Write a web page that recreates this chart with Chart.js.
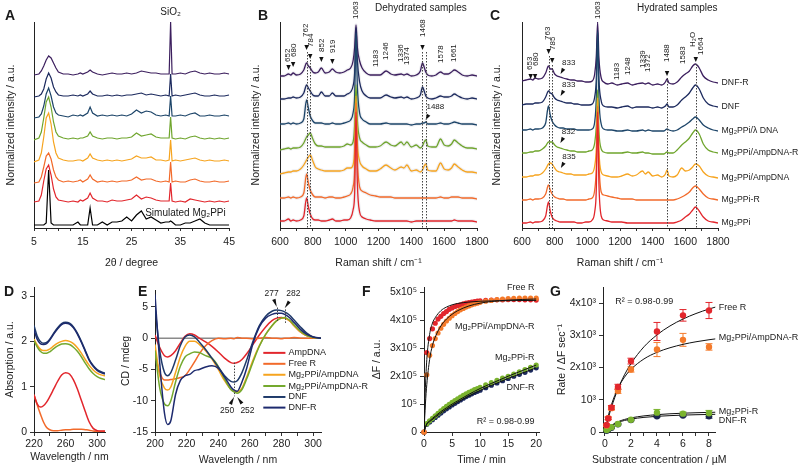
<!DOCTYPE html>
<html>
<head>
<meta charset="utf-8">
<script src="https://cdn.jsdelivr.net/npm/chart.js@4.4.1/dist/chart.umd.min.js"></script>
<style>
html,body{margin:0;padding:0;background:#fff;}
#wrap{position:relative;width:800px;height:468px;overflow:hidden;background:#fff;}
#wrap canvas{position:absolute;}
.lt{position:absolute;font:bold 14px "Liberation Sans",Arial,sans-serif;line-height:16px;color:#1a1a1a;}
.tt{position:absolute;font:10px "Liberation Sans",Arial,sans-serif;line-height:12px;color:#222;white-space:nowrap;}
</style>
</head>
<body>
<div id="wrap">
  <canvas id="cA" width="240" height="275" style="left:0px;top:0px"></canvas>
  <canvas id="cB" width="262" height="275" style="left:240px;top:0px"></canvas>
  <canvas id="cC" width="318" height="275" style="left:482px;top:0px"></canvas>
  <canvas id="cD" width="140" height="236" style="left:0px;top:232px"></canvas>
  <canvas id="cE" width="260" height="236" style="left:116px;top:232px"></canvas>
  <canvas id="cF" width="195" height="236" style="left:355px;top:232px"></canvas>
  <canvas id="cG" width="255" height="236" style="left:545px;top:232px"></canvas>
  <div class="lt" style="left:5px;top:7px">A</div>
  <div class="lt" style="left:258px;top:7px">B</div>
  <div class="lt" style="left:490px;top:7px">C</div>
  <div class="lt" style="left:4px;top:283px">D</div>
  <div class="lt" style="left:138px;top:283px">E</div>
  <div class="lt" style="left:362px;top:283px">F</div>
  <div class="lt" style="left:550px;top:283px">G</div>
  <div class="tt" style="left:375px;top:2px">Dehydrated samples</div>
  <div class="tt" style="left:637px;top:2px">Hydrated samples</div>
</div>
<script>
const FONT = '"Liberation Sans", Arial, Helvetica, sans-serif';

/* ===================== DATA ===================== */
const sampleNames = ['DNF-R','DNF','Mg₂PPi/λ DNA','Mg₂PPi/AmpDNA-R','Mg₂PPi/AmpDNA','Mg₂PPi-R','Mg₂PPi'];
const sampleColors = ['#3c1f5e','#1c2a5e','#1d4569','#6fa52d','#f6a41f','#f26a2a','#e2262c'];

/* A: XRD (2θ, intensity a.u.) */
const xrdAngle = [5,6,6.5,7,7.5,8,8.5,9,9.5,10,11,12,13,14,14.5,15,16,16.5,17,18,19,20,21,22,23,24,25,26,27,28,29,30,31,32,32.7,33,33.3,34,35,36,37,38,39,40,41,42,43,44,45];
const xrdDNFR   = [0,1,4,9,15,19,17,12,7,3,1,1,0,1,2,1,3,5,3,1,0,1,2,1,1,2,1,2,4,3,2,2,1,1,1,53,1,1,2,1,3,4,2,1,2,1,1,2,1];
const xrdDNF    = [0,1,3,8,18,24,19,10,5,2,1,1,2,1,2,1,3,6,3,1,1,2,1,2,1,2,2,3,4,2,3,2,1,2,1,23,1,2,1,2,3,4,2,1,1,2,1,1,2];
const xrdLambda = [0,1,4,12,24,30,22,11,5,3,2,1,3,2,3,2,5,11,5,2,3,2,3,2,3,2,4,8,5,7,6,3,2,3,2,22,2,2,3,2,4,5,2,2,3,2,2,3,2];
const xrdAmpR   = [0,2,8,22,38,43,33,18,8,4,2,1,2,1,2,2,4,8,4,2,1,2,2,1,2,2,3,7,4,5,6,3,2,2,2,23,2,1,2,1,3,4,2,1,2,1,2,1,2];
const xrdAmp    = [0,2,9,25,44,49,38,20,9,4,2,1,1,2,2,1,4,8,4,2,1,2,1,2,1,2,3,6,4,4,5,2,2,1,2,22,1,2,1,2,3,4,2,1,2,1,1,2,1];
const xrdPPiR   = [0,1,6,16,27,30,24,13,6,3,1,2,1,2,3,1,4,8,4,1,2,1,2,1,2,2,3,6,3,4,4,2,1,2,1,21,1,2,1,1,3,4,2,1,1,2,1,1,2];
const xrdPPi    = [1,2,8,22,34,38,28,14,6,3,2,1,2,1,3,2,5,10,5,2,2,1,3,2,2,3,4,8,4,6,5,3,2,2,2,20,2,1,2,1,4,3,2,1,2,1,2,1,2];
const xrdSim    = [0,0,0,0,2,55,2,0,0,0,0,0,0,3,0,0,0,17,0,0,3,0,3,3,4,8,4,10,14,6,8,5,2,3,3,4,3,0,0,2,2,4,6,2,0,0,0,0,0];
const xrdOffsets = [153,131,110,88,66,45,25];
const xrdSimOffset = 3;
const xrdTicks = [5,7.5,10,12.5,15,17.5,20,22.5,25,27.5,30,32.5,35,37.5,40,42.5,45];
const xrdTickLabels = [5,15,25,35,45];

/* B, C: Raman (cm-1, intensity a.u.) */
const ramanShift = [600,625,652,666,680,700,725,745,762,773,784,800,815,833,852,875,900,919,940,965,990,1010,1030,1045,1055,1063,1071,1085,1100,1125,1150,1183,1210,1246,1275,1300,1338,1355,1373,1400,1430,1455,1468,1478,1488,1500,1525,1550,1578,1600,1625,1645,1662,1685,1710,1740,1770,1800];
const dehydDNFR   = [1,1,3,2,4,2,3,7,14,11,9,5,4,5,9,4,5,8,5,4,5,7,9,16,30,52,30,16,9,4,2,2,2,6,3,2,3,2,3,1,2,6,14,10,5,2,1,2,5,3,3,5,7,5,2,1,2,1];
const dehydDNF    = [1,1,2,2,3,2,3,7,15,12,9,5,4,4,8,4,4,7,4,4,4,6,8,14,28,72,40,18,9,4,2,2,2,5,3,2,3,2,3,1,2,5,13,9,4,2,1,2,4,3,3,4,6,4,2,1,2,1];
const dehydLambda = [1,1,2,1,2,1,2,6,25,17,9,4,2,2,2,1,1,2,1,1,2,3,5,12,30,92,40,12,6,3,1,1,1,2,1,1,1,1,1,0,1,1,2,2,3,1,1,1,2,1,1,2,3,2,1,1,1,0];
const dehydAmpR   = [0,1,2,1,2,2,3,7,13,15,17,11,6,4,4,3,3,3,3,3,4,6,5,8,25,65,30,12,8,5,3,3,4,8,5,4,8,5,8,3,5,2,4,8,10,4,3,3,11,5,4,6,10,7,4,2,2,1];
const dehydAmp    = [0,1,2,2,3,3,5,9,14,17,19,13,7,5,4,3,3,3,3,3,4,6,6,9,26,78,32,13,8,5,3,3,5,9,6,4,7,6,9,3,4,2,4,8,10,4,3,3,11,5,4,6,10,7,4,2,2,1];
const dehydPPiR   = [1,1,2,1,2,1,2,6,25,16,9,4,2,2,2,1,2,2,1,1,2,3,5,12,30,96,40,12,8,6,4,3,2,2,2,1,1,1,1,1,1,1,1,1,1,1,1,1,2,1,1,2,2,2,1,1,1,0];
const dehydPPi    = [1,1,3,1,2,1,2,6,24,15,8,3,2,2,1,1,2,3,1,1,2,2,4,12,30,110,40,10,5,3,2,1,1,1,1,1,1,1,1,0,1,1,1,1,1,1,1,1,1,1,1,1,2,1,1,1,1,0];
const dehydOffsets = [151,128,103,78,54,29,6];

const hydDNFR   = [5,6,7,6,8,7,8,13,20,17,17,12,10,9,8,7,6,6,5,5,4,4,5,12,30,64,28,8,4,2,3,1,2,3,1,2,3,2,3,1,2,1,2,4,7,3,2,4,9,12,15,20,22,18,10,6,4,3];
const hydDNF    = [4,5,5,5,6,6,7,12,18,16,15,11,9,8,7,6,6,5,5,4,4,4,5,12,30,79,30,8,3,2,2,1,2,3,1,2,2,2,2,1,2,1,2,3,5,2,2,4,9,12,16,21,24,20,11,5,3,2];
const hydLambda = [2,2,3,2,3,3,4,9,26,17,11,7,5,4,4,3,3,3,2,2,2,2,3,10,35,100,35,8,3,2,2,1,1,2,1,1,2,1,2,1,1,1,1,2,3,2,1,2,5,7,10,13,15,12,7,4,2,1];
const hydAmpR   = [3,3,4,4,5,5,7,10,14,14,14,11,9,8,7,6,5,5,4,4,4,5,6,13,30,66,25,7,4,3,3,3,3,4,3,3,4,3,3,2,2,2,2,3,4,3,3,6,11,14,18,23,26,22,12,6,4,3];
const hydAmp    = [3,3,4,4,5,5,7,11,16,17,16,12,9,8,7,6,6,5,5,5,5,6,7,14,32,82,30,8,5,4,3,3,4,6,4,5,9,6,8,4,5,3,4,6,10,4,3,5,12,9,10,13,16,14,8,4,3,2];
const hydPPiR   = [2,2,3,2,3,3,4,8,17,12,8,5,4,3,3,2,2,2,2,2,2,3,4,12,35,96,40,10,7,6,5,4,3,3,3,2,2,2,2,2,2,2,2,2,2,2,2,3,5,7,10,14,16,13,8,4,3,2];
const hydPPi    = [1,1,2,1,2,2,3,8,22,13,7,4,3,2,2,2,2,2,1,1,2,2,4,12,35,112,40,8,4,3,2,2,2,1,1,1,1,1,1,1,1,1,1,1,1,1,1,2,4,7,10,14,17,13,7,3,2,1];
const hydOffsets = [142,119,96,72,48,26,4];
const ramanTicks = [600,700,800,900,1000,1100,1200,1300,1400,1500,1600,1700,1800];
const ramanTickLabels = [600,800,1000,1200,1400,1600,1800];

/* D: absorption */
const absWl      = [220,224,228,232,236,240,245,250,255,260,265,270,275,280,285,290,295,300,305,310];
const absDNF     = [2.35,2.12,2.0,1.96,1.98,2.05,2.18,2.3,2.39,2.42,2.4,2.32,2.18,2.0,1.8,1.6,1.47,1.38,1.33,1.3];
const absDNFR    = [2.25,2.05,1.95,1.93,1.95,2.03,2.16,2.28,2.37,2.4,2.38,2.3,2.16,1.98,1.78,1.58,1.45,1.36,1.31,1.28];
const absPPiAmp  = [2.05,1.92,1.83,1.8,1.8,1.83,1.9,1.96,2.0,2.02,2.0,1.95,1.86,1.74,1.6,1.47,1.37,1.3,1.26,1.24];
const absPPiAmpR = [2.02,1.88,1.78,1.74,1.74,1.77,1.84,1.9,1.94,1.95,1.93,1.87,1.78,1.66,1.52,1.39,1.29,1.22,1.18,1.16];
const absAmpDNA  = [0.82,0.62,0.55,0.58,0.66,0.78,0.95,1.12,1.26,1.31,1.28,1.15,0.95,0.7,0.45,0.22,0.08,0.03,0.02,0.02];
const absFreeR   = [0.82,0.6,0.4,0.22,0.1,0.05,0.03,0.03,0.04,0.05,0.05,0.06,0.06,0.06,0.05,0.04,0.02,0.01,0.01,0.01];

/* E: CD (nm, mdeg) */
const cdWl       = [200,203,206,208,210,213,216,219,222,225,228,232,236,240,244,248,250,252,255,258,262,266,270,274,277,280,282,285,288,292,296,300,305];
const cdAmpDNA   = [0.5,-1.5,-2.8,-3.0,-2.8,-2.0,-0.8,0.3,0.7,0.5,0.0,-0.6,-1.3,-2.2,-3.2,-3.9,-4.0,-3.9,-3.4,-2.5,-1.0,0.5,1.8,2.8,3.2,3.3,3.2,2.8,2.0,1.0,0.4,0.1,0.0];
const cdFreeR    = [-2.5,-5.5,-6.7,-6.7,-6.6,-6.5,-6.3,-6.0,-5.0,-3.8,-2.5,-1.2,-0.4,0.0,-0.1,0.0,-0.1,0.1,0.0,0.0,-0.1,0.0,0.1,0.0,0.0,-0.1,0.0,0.0,0.1,0.0,0.0,0.0,0.0];
const cdPPiAmp   = [-1.0,-6.0,-8.0,-8.3,-7.8,-5.5,-3.0,-1.3,-0.5,-0.5,-1.0,-2.0,-3.3,-5.0,-6.8,-8.2,-8.5,-8.6,-8.0,-6.2,-3.5,-1.2,0.6,2.0,2.8,3.2,3.2,2.8,2.0,1.0,0.4,0.1,0.0];
const cdPPiAmpR  = [-2.0,-8.0,-10.5,-10.8,-10.0,-7.0,-4.5,-3.0,-2.5,-2.2,-2.3,-2.8,-3.2,-4.5,-6.5,-8.2,-8.6,-8.8,-8.2,-6.5,-3.8,-1.3,0.6,2.0,2.8,3.2,3.3,2.9,2.1,1.1,0.4,0.1,0.0];
const cdDNF      = [5.0,-2.0,-5.5,-6.0,-5.5,-3.5,-1.2,0.2,0.5,0.2,-0.6,-1.8,-3.2,-4.6,-6.0,-6.9,-7.0,-6.8,-5.5,-3.5,-0.5,2.0,3.5,4.3,4.5,4.4,4.2,3.7,2.9,1.8,0.8,0.2,0.0];
const cdDNFR     = [7.0,-4.0,-12.0,-13.8,-13.2,-9.0,-6.8,-6.0,-5.8,-5.2,-5.0,-4.6,-4.4,-4.8,-6.2,-7.8,-8.3,-8.5,-7.0,-4.8,-0.8,1.8,3.2,3.8,4.0,4.0,3.8,3.3,2.5,1.4,0.6,0.2,0.0];
const cdNames    = ['AmpDNA','Free R','Mg₂PPi/AmpDNA','Mg₂PPi/AmpDNA-R','DNF','DNF-R'];
const cdColors   = ['#e2262c','#f26a2a','#f6a41f','#74a92e','#1f3a6a','#1d2a6e'];

/* F: kinetics (min, ΔF in 10^5 a.u.) */
const fTime   = [0,0.5,1,1.5,2,2.5,3,3.5,4,4.5,5,5.5,6,6.5,7,7.5,8,8.5,9,9.5,10,11,12,13,14,15,16,17,18,19,20];
const fFreeR  = [0,2.85,3.35,3.7,3.9,4.05,4.15,4.25,4.32,4.4,4.45,4.5,4.53,4.56,4.6,4.62,4.64,4.66,4.68,4.69,4.7,4.72,4.73,4.74,4.74,4.75,4.75,4.75,4.74,4.74,4.73];
const fAmpR   = [0,2.05,2.75,3.1,3.35,3.55,3.72,3.86,3.98,4.08,4.17,4.25,4.32,4.38,4.43,4.48,4.52,4.56,4.59,4.62,4.65,4.69,4.72,4.75,4.77,4.78,4.79,4.8,4.8,4.8,4.8];
const fPPiR   = [0,0.3,0.4,0.49,0.58,0.67,0.76,0.84,0.92,0.99,1.06,1.13,1.19,1.25,1.31,1.37,1.42,1.47,1.52,1.56,1.6,1.69,1.77,1.85,1.93,2.0,2.08,2.16,2.24,2.32,2.4];
const fDNFR   = [0,0.28,0.36,0.44,0.52,0.6,0.68,0.76,0.83,0.9,0.97,1.03,1.09,1.15,1.21,1.27,1.32,1.37,1.42,1.46,1.5,1.59,1.68,1.76,1.84,1.92,2.0,2.07,2.14,2.22,2.3];
const fFitTimeFast = [0,0.25,0.5,1,1.5,2,3,4,5,6,8,10,12,15,20];
const fFitFreeR    = [0,1.6,2.6,3.5,3.9,4.1,4.35,4.48,4.56,4.61,4.66,4.69,4.7,4.71,4.72];
const fFitAmpR     = [0,1.0,1.7,2.6,3.1,3.4,3.8,4.05,4.22,4.35,4.52,4.62,4.68,4.73,4.77];
const fFitTimeSlow = [0,0.5,1,2,3,4,5,6,8,10,12,15,20];
const fFitPPiR     = [0,0.3,0.4,0.57,0.73,0.87,1.0,1.12,1.35,1.56,1.74,2.0,2.4];
const fFitDNFR     = [0,0.28,0.37,0.53,0.68,0.82,0.95,1.07,1.29,1.49,1.67,1.92,2.3];

/* G: rate vs substrate (µM, ΔF/s) */
const gConc      = [0.125,0.25,0.5,1,2,4,6,8];
const gFreeR     = [220,420,760,1400,2200,3120,3620,3770];
const gFreeRErr  = [30,40,60,80,90,280,180,250];
const gAmpR      = [200,430,740,1270,1940,2560,2860,2640];
const gAmpRErr   = [30,40,60,70,80,220,200,100];
const gPPiR      = [60,100,150,250,380,600,570,580];
const gPPiRErr   = [15,20,20,30,30,100,50,90];
const gDNFR      = [40,80,130,240,370,490,510,490];
const gDNFRErr   = [10,15,15,20,20,30,30,60];
const gFitConc   = [0,0.25,0.5,1,1.5,2,3,4,5,6,7,8,8.5];
const gFitFreeR  = [0,413,765,1333,1773,2122,2644,3014,3291,3506,3677,3817,3877];
const gFitAmpR   = [0,486,850,1360,1700,1943,2267,2473,2615,2720,2800,2863,2890];
const gFitPPiR   = [0,121,206,318,389,438,500,538,565,583,598,609,613];
const gFitDNFR   = [0,115,194,295,358,400,454,486,508,524,536,545,549];

/* ===================== HELPERS ===================== */
function drawItems(chart, items) {
  const ctx = chart.ctx, xs = chart.scales.x, ys = chart.scales.y;
  const X = v => xs.getPixelForValue(v), Y = v => ys.getPixelForValue(v);
  for (const it of items) {
    ctx.save();
    if (it.t === 'text') {
      ctx.font = (it.size || 8) + 'px ' + FONT;
      ctx.fillStyle = it.color || '#1a1a1a';
      const ca = chart.chartArea;
      const px = it.cx ? (ca.left + ca.right) / 2 : X(it.x);
      const py = it.py != null ? it.py : Y(it.y);
      ctx.translate(px, py);
      if (it.rot) ctx.rotate(-Math.PI / 2);
      ctx.textAlign = it.align || (it.rot ? 'left' : 'center');
      ctx.textBaseline = 'middle';
      ctx.fillText(it.text, 0, 0);
    } else if (it.t === 'tri') {
      const a = (it.ang == null ? 90 : it.ang) * Math.PI / 180, L = it.len || 5, W = it.wid || 2.2;
      const tx = X(it.x), ty = Y(it.y);
      const bx = tx - Math.cos(a) * L, by = ty - Math.sin(a) * L;
      const nx = -Math.sin(a) * W, ny = Math.cos(a) * W;
      ctx.beginPath(); ctx.moveTo(tx, ty); ctx.lineTo(bx + nx, by + ny); ctx.lineTo(bx - nx, by - ny); ctx.closePath();
      ctx.fillStyle = '#111'; ctx.fill();
    } else if (it.t === 'vline') {
      ctx.beginPath(); ctx.setLineDash(it.dash || [1.5, 1.5]); ctx.strokeStyle = it.color || '#444'; ctx.lineWidth = it.w || 1;
      const px = Math.round(X(it.x)) + 0.5;
      ctx.moveTo(px, Y(it.y1)); ctx.lineTo(px, Y(it.y2)); ctx.stroke();
    } else if (it.t === 'seg') {
      ctx.beginPath(); ctx.strokeStyle = it.color; ctx.lineWidth = it.w || 1.5;
      ctx.moveTo(X(it.x1), Y(it.y)); ctx.lineTo(X(it.x2), Y(it.y)); ctx.stroke();
    }
    ctx.restore();
  }
}
function makeAnnot(items) {
  return {
    id: 'annot',
    beforeDatasetsDraw(chart) { drawItems(chart, items.filter(i => i.under)); },
    afterDatasetsDraw(chart) { drawItems(chart, items.filter(i => !i.under)); }
  };
}
function makeErrBars(sets) {
  return {
    id: 'errbars',
    beforeDatasetsDraw(chart) {
      const ctx = chart.ctx, xs = chart.scales.x, ys = chart.scales.y;
      ctx.save();
      for (const s of sets) {
        ctx.strokeStyle = s.color; ctx.lineWidth = 1;
        s.x.forEach((xv, i) => {
          const px = xs.getPixelForValue(xv);
          const y1 = ys.getPixelForValue(s.y[i] - s.e[i]), y2 = ys.getPixelForValue(s.y[i] + s.e[i]);
          ctx.beginPath();
          ctx.moveTo(px, y1); ctx.lineTo(px, y2);
          ctx.moveTo(px - 3.5, y1); ctx.lineTo(px + 3.5, y1);
          ctx.moveTo(px - 3.5, y2); ctx.lineTo(px + 3.5, y2);
          ctx.stroke();
        });
      }
      ctx.restore();
    }
  };
}
function xAx(o) {
  return {
    type: 'linear', min: o.min, max: o.max,
    afterFit: s => { s.height = o.h; },
    afterBuildTicks: s => { s.ticks = o.ticks.map(v => ({ value: v })); },
    ticks: { autoSkip: false, maxRotation: 0, minRotation: 0, padding: o.pad, color: '#222', font: { size: 10.5, family: FONT },
      callback: v => o.labels.indexOf(v) >= 0 ? (o.fmt ? o.fmt(v) : String(v)) : '' },
    grid: { display: true, drawOnChartArea: false, drawTicks: true, tickLength: o.tl || 4, color: '#333', lineWidth: 1 },
    border: { display: true, color: '#222', width: 1 },
    title: { display: !o.noTitle, text: o.title, color: '#222', font: { size: 10.5, family: FONT }, padding: { top: 0, bottom: o.tpad } }
  };
}
function yAx(o) {
  const hasT = !!o.ticks;
  const ax = {
    type: 'linear', min: o.min, max: o.max,
    afterFit: s => { s.width = o.w; },
    ticks: { display: hasT, padding: 3, color: '#222', font: { size: 10.5, family: FONT }, callback: v => o.fmt ? o.fmt(v) : String(v) },
    grid: { display: hasT, drawOnChartArea: false, drawTicks: true, tickLength: 4, color: '#333', lineWidth: 1 },
    border: { display: true, color: '#222', width: 1 },
    title: { display: true, text: o.title, color: '#222', font: { size: 10.5, family: FONT }, padding: { top: 4, bottom: 0 } }
  };
  if (hasT) ax.afterBuildTicks = s => { s.ticks = o.ticks.map(v => ({ value: v })); };
  return ax;
}
function lineDS(xs, ys, color, off, extra) {
  return Object.assign({
    data: xs.map((x, i) => ({ x: x, y: ys[i] + (off || 0) })),
    borderColor: color, backgroundColor: color, borderWidth: 1.2, pointRadius: 0,
    tension: 0, cubicInterpolationMode: 'monotone', fill: false
  }, extra || {});
}
function pointDS(xs, ys, color, r, order) {
  return {
    data: xs.map((x, i) => ({ x: x, y: ys[i] })),
    showLine: false, pointRadius: r, pointBorderWidth: 0, pointBackgroundColor: color,
    borderColor: color, backgroundColor: color, clip: false, order: order
  };
}
function makeChart(id, datasets, x, y, padding, plugins) {
  return new Chart(document.getElementById(id), {
    type: 'line',
    data: { datasets: datasets },
    options: {
      responsive: false, animation: false, devicePixelRatio: 1,
      layout: { padding: padding },
      plugins: { legend: { display: false }, tooltip: { enabled: false } },
      scales: { x: x, y: y }
    },
    plugins: plugins || []
  });
}

/* ===================== A ===================== */
(function () {
  const series = [xrdDNFR, xrdDNF, xrdLambda, xrdAmpR, xrdAmp, xrdPPiR, xrdPPi];
  const ds = series.map((s, i) => lineDS(xrdAngle, s, sampleColors[i], xrdOffsets[i],
    { order: i, cubicInterpolationMode: 'default', borderWidth: 1.2 }));
  ds.push(lineDS(xrdAngle, xrdSim, '#000', xrdSimOffset, { order: 7, cubicInterpolationMode: 'default', borderWidth: 1.2 }));
  const items = [
    { t: 'text', x: 33, y: 216, text: 'SiO₂', size: 10, align: 'center' },
    { t: 'text', x: 44.3, y: 15, text: 'Simulated Mg₂PPi', size: 10, align: 'right' }
  ];
  makeChart('cA', ds,
    xAx({ min: 5, max: 45, h: 47, ticks: xrdTicks, labels: xrdTickLabels, pad: 5, tl: 3, title: '2θ / degree', tpad: 6 }),
    yAx({ min: 0, max: 206, w: 33, title: 'Normalized intensity / a.u.' }),
    { left: 1, right: 9, top: 22, bottom: 0 }, [makeAnnot(items)]);
})();

/* ===================== B ===================== */
(function () {
  const series = [dehydDNFR, dehydDNF, dehydLambda, dehydAmpR, dehydAmp, dehydPPiR, dehydPPi];
  const ds = [];
  series.forEach((s, i) => {
    ds.push(lineDS(ramanShift, s, sampleColors[i], dehydOffsets[i], { order: 6 - i, borderWidth: 1.3 }));
    ds.push(lineDS(ramanShift, s, 'rgba(150,150,170,0.16)', dehydOffsets[i], { order: 20, borderWidth: 3.5 }));
  });
  const items = [];
  const arrowPeaks = [[652, 649, 166, 158], [680, 683, 171, 161], [762, 757, 191, 178], [784, 789, 181, 169], [852, 852, 176, 166], [919, 919, 175, 164], [1468, 1468, 191, 178]];
  arrowPeaks.forEach(p => {
    items.push({ t: 'text', x: p[1], y: p[2], text: String(p[0]), rot: true });
    items.push({ t: 'tri', x: p[0], y: p[3], ang: 90 });
  });
  [[1063, 209], [1183, 161], [1246, 168], [1336, 166], [1374, 163], [1578, 165], [1661, 166]].forEach(p =>
    items.push({ t: 'text', x: p[0], y: p[1], text: String(p[0]), rot: true }));
  items.push({ t: 'text', x: 1492, y: 121, text: '1488', align: 'left' });
  items.push({ t: 'tri', x: 1487, y: 108, ang: 120, len: 6, wid: 2 });
  [[762, 176], [784, 168], [1468, 176], [1488, 176]].forEach(p => items.push({ t: 'vline', x: p[0], y1: p[1], y2: 0 }));
  makeChart('cB', ds,
    xAx({ min: 600, max: 1800, h: 47, ticks: ramanTicks, labels: ramanTickLabels, pad: 5, tl: 3, title: 'Raman shift / cm⁻¹', tpad: 6 }),
    yAx({ min: 0, max: 206, w: 34, title: 'Normalized intensity / a.u.' }),
    { left: 6, right: 25, top: 22, bottom: 0 }, [makeAnnot(items)]);
})();

/* ===================== C ===================== */
(function () {
  const series = [hydDNFR, hydDNF, hydLambda, hydAmpR, hydAmp, hydPPiR, hydPPi];
  const ds = series.map((s, i) => lineDS(ramanShift, s, sampleColors[i], hydOffsets[i], { order: 6 - i, borderWidth: 1.3 }));
  const items = [];
  [[653, 648, 158, 149], [680, 685, 162, 149], [763, 757, 188, 174], [785, 790, 178, 165], [1488, 1488, 166, 152]].forEach(p => {
    items.push({ t: 'text', x: p[1], y: p[2], text: String(p[0]), rot: true });
    items.push({ t: 'tri', x: p[0], y: p[3], ang: 90 });
  });
  [[1063, 209], [1183, 148], [1248, 153], [1339, 160], [1372, 156], [1583, 164]].forEach(p =>
    items.push({ t: 'text', x: p[0], y: p[1], text: String(p[0]), rot: true }));
  items.push({ t: 'text', x: 1645, y: 181, text: 'H₂O', rot: true });
  items.push({ t: 'text', x: 1692, y: 173, text: '1664', rot: true });
  items.push({ t: 'tri', x: 1664, y: 166, ang: 90 });
  [[833, 165, 154], [833, 143, 132], [832, 96, 85], [835, 71, 60]].forEach(p => {
    items.push({ t: 'text', x: p[0] + 12, y: p[1], text: String(p[0]), align: 'left' });
    items.push({ t: 'tri', x: p[0] + 3, y: p[2], ang: 120, len: 6, wid: 2 });
  });
  [[763, 172], [785, 163], [1488, 150], [1664, 164]].forEach(p => items.push({ t: 'vline', x: p[0], y1: p[1], y2: 0 }));
  series.forEach((s, i) => items.push({ t: 'text', x: 1822, y: s[s.length - 1] + hydOffsets[i], text: sampleNames[i], size: 8.7, align: 'left', color: '#222' }));
  makeChart('cC', ds,
    xAx({ min: 600, max: 1800, h: 47, ticks: ramanTicks, labels: ramanTickLabels, pad: 5, tl: 3, title: 'Raman shift / cm⁻¹', tpad: 6 }),
    yAx({ min: 0, max: 206, w: 35, title: 'Normalized intensity / a.u.' }),
    { left: 5, right: 82, top: 22, bottom: 0 }, [makeAnnot(items)]);
})();

/* ===================== D ===================== */
(function () {
  const ds = [
    lineDS(absWl, absAmpDNA, '#e2262c', 0, { borderWidth: 1.5, order: 4 }),
    lineDS(absWl, absFreeR, '#f26a2a', 0, { borderWidth: 1.5, order: 5 }),
    lineDS(absWl, absPPiAmp, '#f6a41f', 0, { borderWidth: 1.5, order: 3 }),
    lineDS(absWl, absPPiAmpR, '#74a92e', 0, { borderWidth: 1.5, order: 2 }),
    lineDS(absWl, absDNF, '#1f3a6a', 0, { borderWidth: 1.5, order: 1 }),
    lineDS(absWl, absDNFR, '#1d2a6e', 0, { borderWidth: 1.5, order: 0 })
  ];
  const items = [{ t: 'text', cx: true, py: 225, text: 'Wavelength / nm', size: 10.5, align: 'center', color: '#222' }];
  makeChart('cD', ds,
    xAx({ min: 220, max: 310, h: 36, ticks: [220, 240, 260, 280, 300], labels: [220, 260, 300], pad: 2, tl: 4, title: 'Wavelength / nm', tpad: 5, noTitle: true }),
    yAx({ min: 0, max: 3.2, w: 34, ticks: [0, 1, 2, 3], title: 'Absorption / a.u.' }),
    { left: 0, right: 35, top: 55, bottom: 0 }, [makeAnnot(items)]);
})();

/* ===================== E ===================== */
(function () {
  const series = [cdAmpDNA, cdFreeR, cdPPiAmp, cdPPiAmpR, cdDNF, cdDNFR];
  const ds = series.map((s, i) => lineDS(cdWl, s, cdColors[i], 0, { borderWidth: 1.5, order: 5 - i }));
  const items = [
    { t: 'seg', x1: 200, x2: 305, y: 0, color: '#8a8a8a', w: 1.5, under: true },
    { t: 'text', x: 273.7, y: 7.1, text: '277', size: 8.5 },
    { t: 'text', x: 287.5, y: 7.1, text: '282', size: 8.5 },
    { t: 'tri', x: 277, y: 5.0, ang: 69, len: 8, wid: 1.8 },
    { t: 'tri', x: 282, y: 4.8, ang: 125, len: 8, wid: 1.8 },
    { t: 'vline', x: 277, y1: 4.9, y2: 2.6 },
    { t: 'vline', x: 282, y1: 4.6, y2: 2.4 },
    { t: 'vline', x: 250, y1: -3.9, y2: -9.3 },
    { t: 'text', x: 245.6, y: -11.6, text: '250', size: 8.5 },
    { t: 'text', x: 258.5, y: -11.6, text: '252', size: 8.5 },
    { t: 'tri', x: 250, y: -9.4, ang: -63, len: 8, wid: 1.8 },
    { t: 'tri', x: 252, y: -9.4, ang: -126, len: 8, wid: 1.8 }
  ];
  const rows = [-2.35, -4.1, -5.85, -7.65, -9.4, -11.1];
  cdNames.forEach((n, i) => {
    items.push({ t: 'seg', x1: 268.5, x2: 282.5, y: rows[i], color: cdColors[i], w: 2 });
    items.push({ t: 'text', x: 284.5, y: rows[i], text: n, size: 9, align: 'left', color: '#222' });
  });
  makeChart('cE', ds,
    xAx({ min: 200, max: 305, h: 36, ticks: [200, 210, 220, 230, 240, 250, 260, 270, 280, 290, 300], labels: [200, 220, 240, 260, 280, 300], pad: 2, tl: 4, title: 'Wavelength / nm', tpad: 2 }),
    yAx({ min: -15, max: 7.7, w: 39, ticks: [-15, -10, -5, 0, 5], title: 'CD / mdeg' }),
    { left: 0, right: 55, top: 58, bottom: 0 }, [makeAnnot(items)]);
})();

/* ===================== F ===================== */
(function () {
  const ds = [
    lineDS(fFitTimeFast, fFitFreeR, '#111', 0, { borderWidth: 1, order: 0 }),
    lineDS(fFitTimeFast, fFitAmpR, '#111', 0, { borderWidth: 1, order: 0 }),
    lineDS(fFitTimeSlow, fFitPPiR, '#111', 0, { borderWidth: 1, order: 0 }),
    lineDS(fFitTimeSlow, fFitDNFR, '#111', 0, { borderWidth: 1, order: 0 }),
    pointDS(fTime, fDNFR, '#1c2a5e', 2.6, 4),
    pointDS(fTime, fPPiR, '#7ab32e', 2.6, 3),
    pointDS(fTime, fFreeR, '#e2262c', 2.6, 2),
    pointDS(fTime, fAmpR, '#f47a2a', 2.6, 1)
  ];
  const items = [
    { t: 'text', x: 19.7, y: 5.18, text: 'Free R', size: 9, align: 'right', color: '#222' },
    { t: 'text', x: 19.7, y: 3.78, text: 'Mg₂PPi/AmpDNA-R', size: 9, align: 'right', color: '#222' },
    { t: 'text', x: 19.7, y: 2.66, text: 'Mg₂PPi-R', size: 9, align: 'right', color: '#222' },
    { t: 'text', x: 19.7, y: 1.58, text: 'DNF-R', size: 9, align: 'right', color: '#222' },
    { t: 'text', x: 19.7, y: 0.36, text: 'R² = 0.98-0.99', size: 9, align: 'right', color: '#222' }
  ];
  const fmt = v => v === 0 ? '0' : (v === 1 ? '10⁵' : v + 'x10⁵');
  makeChart('cF', ds,
    xAx({ min: 0, max: 20.5, h: 36, ticks: [0, 5, 10, 15, 20], labels: [0, 5, 10, 15, 20], pad: 2, tl: 4, title: 'Time / min', tpad: 2 }),
    yAx({ min: 0, max: 5.2, w: 57, ticks: [0, 1, 2, 3, 4, 5], fmt: fmt, title: 'ΔF / a.u.' }),
    { left: 12, right: 11, top: 55, bottom: 0 }, [makeAnnot(items)]);
})();

/* ===================== G ===================== */
(function () {
  const ds = [
    lineDS(gFitConc, gFitFreeR, '#111', 0, { borderWidth: 1, order: 5 }),
    lineDS(gFitConc, gFitAmpR, '#111', 0, { borderWidth: 1, order: 5 }),
    lineDS(gFitConc, gFitPPiR, '#111', 0, { borderWidth: 1, order: 5 }),
    lineDS(gFitConc, gFitDNFR, '#111', 0, { borderWidth: 1, order: 5 }),
    pointDS(gConc, gDNFR, '#1b2550', 3.2, 3),
    pointDS(gConc, gPPiR, '#7ab32e', 3.2, 2),
    pointDS(gConc, gAmpR, '#f47a2a', 3.2, 1),
    pointDS(gConc, gFreeR, '#e2262c', 3.2, 0)
  ];
  const err = makeErrBars([
    { x: gConc, y: gDNFR, e: gDNFRErr, color: '#1b2550' },
    { x: gConc, y: gPPiR, e: gPPiRErr, color: '#7ab32e' },
    { x: gConc, y: gAmpR, e: gAmpRErr, color: '#f47a2a' },
    { x: gConc, y: gFreeR, e: gFreeRErr, color: '#e2262c' }
  ]);
  const items = [
    { t: 'text', x: 0.8, y: 4060, text: 'R² = 0.98-0.99', size: 9, align: 'left', color: '#222' },
    { t: 'text', x: 8.75, y: 3876, text: 'Free R', size: 9, align: 'left', color: '#222' },
    { t: 'text', x: 8.75, y: 2946, text: 'Mg₂PPi/AmpDNA-R', size: 9, align: 'left', color: '#222' },
    { t: 'text', x: 8.75, y: 651, text: 'Mg₂PPi-R', size: 9, align: 'left', color: '#222' },
    { t: 'text', x: 8.75, y: 341, text: 'DNF-R', size: 9, align: 'left', color: '#222' },
    { t: 'text', cx: true, py: 228, text: 'Substrate concentration / µM', size: 10.5, align: 'center', color: '#222' }
  ];
  const fmt = v => v === 0 ? '0' : (v === 1000 ? '10³' : (v / 1000) + 'x10³');
  makeChart('cG', ds,
    xAx({ min: -0.15, max: 8.5, h: 36, ticks: [0, 1, 2, 3, 4, 5, 6, 7, 8], labels: [0, 2, 4, 6, 8], pad: 2, tl: 4, title: 'Substrate concentration / µM', tpad: 2, noTitle: true }),
    yAx({ min: 0, max: 4500, w: 51, ticks: [0, 1000, 2000, 3000, 4000], fmt: fmt, title: 'Rate / ΔF sec⁻¹' }),
    { left: 7, right: 84.5, top: 55, bottom: 0 }, [err, makeAnnot(items)]);
})();
</script>
</body>
</html>
